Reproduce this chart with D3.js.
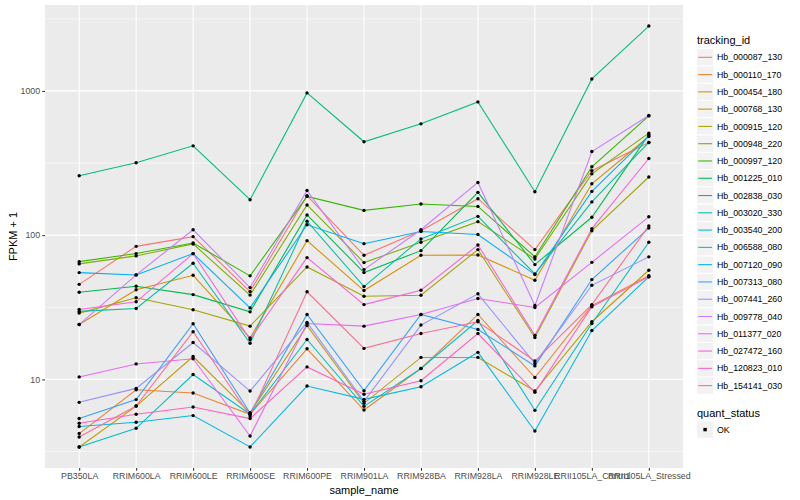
<!DOCTYPE html>
<html><head><meta charset="utf-8">
<script src="https://cdn.jsdelivr.net/npm/d3@7"></script>
<style>body{margin:0;background:#fff;} text{font-family:"Liberation Sans",Arial,Helvetica,sans-serif;}</style>
</head><body>
<svg id="c" width="800" height="500"></svg>
<script>
const categories = ["PB350LA","RRIM600LA","RRIM600LE","RRIM600SE","RRIM600PE","RRIM901LA","RRIM928BA","RRIM928LA","RRIM928LE","RRII105LA_Control","RRII105LA_Stressed"];
const trackingIds = ["Hb_000087_130","Hb_000110_170","Hb_000454_180","Hb_000768_130","Hb_000915_120","Hb_000948_220","Hb_000997_120","Hb_001225_010","Hb_002838_030","Hb_003020_330","Hb_003540_200","Hb_006588_080","Hb_007120_090","Hb_007313_080","Hb_007441_260","Hb_009778_040","Hb_011377_020","Hb_027472_160","Hb_120823_010","Hb_154141_030"];
const colors = ["#F8766D","#EA8331","#D89000","#C09B00","#A3A500","#7CAE00","#39B600","#00BB4E","#00BF7D","#00C1A3","#00BFC4","#00BAE0","#00B0F6","#35A2FF","#9590FF","#C77CFF","#E76BF3","#FA62DB","#FF62BC","#FF6C91"];
const yTicks = [10, 100, 1000];
// FPKM + 1 values per tracking_id, in category order
const s000087_130 = [45.6, 83.6, 97.6, 40.6, 187.7, 72.5, 107.4, 178.9, 79.4, 279.5, 438.7];
const s000110_170 = [4.21, 8.48, 8.04, 5.73, 16.3, 6.13, 11.9, 28.2, 10.3, 32.5, 52.4];
const s000454_180 = [24.0, 41.8, 52.7, 19.4, 91.6, 41.3, 72.5, 72.9, 48.7, 227, 483];
const s000768_130 = [3.40, 6.53, 14.4, 5.85, 23.6, 6.82, 14.2, 14.2, 8.30, 25.1, 57.1];
const s000915_120 = [28.8, 36.8, 30.4, 23.4, 60.2, 37.7, 38.3, 79.4, 19.5, 107.4, 253];
const s000948_220 = [63.2, 71.8, 86.9, 38.4, 162, 64.5, 89.2, 124, 68.4, 266, 510];
const s000997_120 = [65.5, 74.5, 88.3, 52.2, 185.6, 148.5, 164.4, 158.2, 70.7, 298, 671];
const s001225_010 = [40.2, 44.2, 38.7, 29.4, 138, 55.0, 78.1, 198, 62.5, 133, 498];
const s002838_030 = [258, 317.5, 416, 176, 969, 444, 591, 839, 200, 1211, 2817];
const s003020_330 = [29.6, 31.0, 63.8, 17.8, 125, 44.0, 94.1, 135, 53.9, 170, 439];
const s003540_200 = [3.40, 4.58, 10.8, 5.73, 18.9, 6.50, 11.9, 25.6, 6.10, 24.4, 89.2];
const s006588_080 = [4.71, 5.04, 5.61, 3.40, 8.99, 7.27, 8.90, 15.4, 4.39, 21.8, 51.4];
const s007120_090 = [55.0, 53.0, 74.5, 31.3, 118, 87.3, 106, 101, 53.3, 201, 488];
const s007313_080 = [5.35, 7.24, 24.3, 5.85, 28.2, 8.35, 28.2, 22.2, 12.4, 49.2, 112];
const s007441_260 = [6.93, 8.66, 18.0, 8.30, 24.8, 7.04, 23.8, 39.2, 12.9, 44.9, 70.7];
const s009778_040 = [24.0, 53.0, 109, 43.3, 204, 57.7, 109, 232, 32.5, 380, 675];
const s011377_020 = [10.4, 12.8, 13.9, 4.05, 24.4, 23.4, 28.2, 36.4, 31.5, 64.8, 134];
const s027472_160 = [30.5, 34.5, 74.5, 18.9, 69.9, 33.0, 41.5, 85.5, 20.2, 111, 340];
const s120823_010 = [4.96, 5.73, 6.43, 5.35, 12.2, 7.88, 9.79, 20.8, 8.13, 31.9, 51.4];
const s154141_030 = [3.99, 6.53, 21.4, 5.57, 40.5, 16.4, 20.8, 25.1, 13.4, 33.0, 116];
const seriesValues = [s000087_130,s000110_170,s000454_180,s000768_130,s000915_120,s000948_220,s000997_120,s001225_010,s002838_030,s003020_330,s003540_200,s006588_080,s007120_090,s007313_080,s007441_260,s009778_040,s011377_020,s027472_160,s120823_010,s154141_030];

const svg = d3.select("#c");
const P = {l:45, r:683, t:5, b:468};
const all = seriesValues.flat();
const lmin = Math.log10(d3.min(all)), lmax = Math.log10(d3.max(all));
const ex = (lmax - lmin) * 0.05;
const y = d3.scaleLog().domain([Math.pow(10, lmin - ex), Math.pow(10, lmax + ex)]).range([P.b, P.t]);
const x = d3.scalePoint().domain(categories).range([P.l, P.r]).padding(0.6);

svg.append("rect").attr("x",P.l).attr("y",P.t).attr("width",P.r-P.l).attr("height",P.b-P.t).attr("fill","#EBEBEB");
const g = svg.append("g");
// minor grid
const minor = [0.5, 1.5, 2.5, 3.5].map(e => Math.pow(10, e)).filter(v => v >= y.domain()[0] && v <= y.domain()[1]);
g.selectAll(".mn").data(minor).enter().append("line").attr("x1",P.l).attr("x2",P.r).attr("y1",d=>y(d)).attr("y2",d=>y(d)).attr("stroke","#fff").attr("stroke-width",0.55);
g.selectAll(".mj").data(yTicks).enter().append("line").attr("x1",P.l).attr("x2",P.r).attr("y1",d=>y(d)).attr("y2",d=>y(d)).attr("stroke","#fff").attr("stroke-width",1.1);
g.selectAll(".mx").data(categories).enter().append("line").attr("y1",P.t).attr("y2",P.b).attr("x1",d=>x(d)).attr("x2",d=>x(d)).attr("stroke","#fff").attr("stroke-width",1.1);

const line = d3.line().x((d,i)=>x(categories[i])).y(d=>y(d));
seriesValues.forEach((vals, k) => {
  svg.append("path").attr("d", line(vals)).attr("fill","none").attr("stroke",colors[k]).attr("stroke-width",1.07);
});
seriesValues.forEach((vals) => {
  svg.append("g").selectAll("circle").data(vals).enter().append("circle")
    .attr("cx",(d,i)=>x(categories[i])).attr("cy",d=>y(d)).attr("r",1.7).attr("fill","#000");
});

// axes
const yAxis = d3.axisLeft(y).tickValues(yTicks).tickFormat(d3.format("d")).tickSize(2.75).tickPadding(2.2);
const ya = svg.append("g").attr("transform",`translate(${P.l},0)`).call(yAxis);
const xAxis = d3.axisBottom(x).tickSize(2.75).tickPadding(2.2);
const xa = svg.append("g").attr("transform",`translate(0,${P.b})`).call(xAxis);
[ya, xa].forEach(a => {
  a.select(".domain").remove();
  a.selectAll(".tick line").attr("stroke","#333").attr("stroke-width",1.07);
  a.selectAll(".tick text").attr("fill","#4D4D4D").style("font-size","8.8px").style("font-family","'Liberation Sans',Arial,sans-serif");
});
svg.append("text").attr("x",(P.l+P.r)/2).attr("y",494).attr("text-anchor","middle").style("font-size","11px").attr("fill","#000").text("sample_name");
svg.append("text").attr("transform",`translate(17,${(P.t+P.b)/2}) rotate(-90)`).attr("text-anchor","middle").style("font-size","11px").attr("fill","#000").text("FPKM + 1");

// legend
const lg = svg.append("g");
lg.append("text").attr("x",697).attr("y",44).style("font-size","11px").text("tracking_id");
const keyH = 17.28, k0 = 57.3;
trackingIds.forEach((id, k) => {
  const cy = k0 + k*keyH;
  lg.append("rect").attr("x",696.5).attr("y",cy-keyH/2).attr("width",keyH).attr("height",keyH).attr("fill","#F2F2F2").attr("stroke","#fff").attr("stroke-width",1);
  lg.append("line").attr("x1",698.2).attr("x2",712.1).attr("y1",cy).attr("y2",cy).attr("stroke",colors[k]).attr("stroke-width",1.07);
  lg.append("text").attr("x",717).attr("y",cy+3.1).style("font-size","8.8px").attr("fill","#000").text(id);
});
lg.append("text").attr("x",697).attr("y",417).style("font-size","11px").text("quant_status");
const okY = 429.6;
lg.append("rect").attr("x",696.5).attr("y",okY-keyH/2).attr("width",keyH).attr("height",keyH).attr("fill","#F2F2F2").attr("stroke","#fff");
lg.append("rect").attr("x",703.4).attr("y",okY-1.7).attr("width",3.4).attr("height",3.4).attr("fill","#000");
lg.append("text").attr("x",717).attr("y",okY+3.1).style("font-size","8.8px").text("OK");
</script>
</body></html>
